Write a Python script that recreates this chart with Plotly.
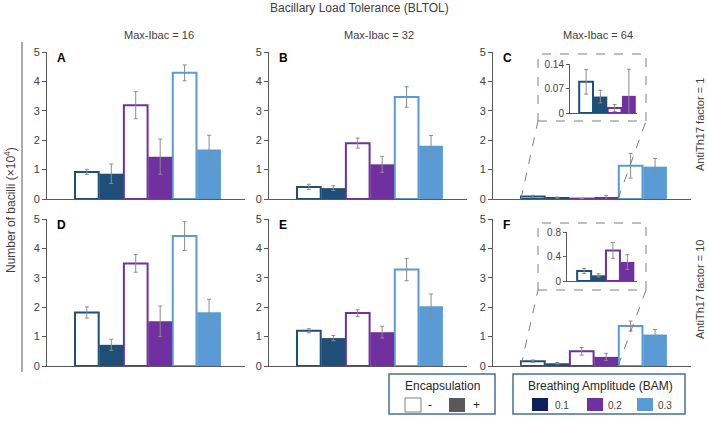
import plotly.graph_objects as go

W, H = 708, 421

# ---------------- data ----------------
bar_labels = ["BAM 0.1 −", "BAM 0.1 +", "BAM 0.2 −", "BAM 0.2 +", "BAM 0.3 −", "BAM 0.3 +"]
panel_letters = ["A", "B", "C", "D", "E", "F"]
col_titles = ["Max-Ibac = 16", "Max-Ibac = 32", "Max-Ibac = 64"]
row_titles = ["AntiTh17 factor = 1", "AntiTh17 factor = 10"]

means_A = [0.92, 0.86, 3.19, 1.44, 4.29, 1.68]
errs_A = [0.09, 0.33, 0.46, 0.60, 0.27, 0.49]
means_B = [0.41, 0.37, 1.90, 1.18, 3.47, 1.81]
errs_B = [0.09, 0.08, 0.17, 0.27, 0.35, 0.35]
means_C = [0.089, 0.047, 0.014, 0.049, 1.13, 1.10]
errs_C = [0.035, 0.018, 0.010, 0.076, 0.42, 0.28]
means_D = [1.82, 0.72, 3.49, 1.52, 4.42, 1.83]
errs_D = [0.19, 0.19, 0.30, 0.52, 0.49, 0.44]
means_E = [1.20, 0.95, 1.80, 1.15, 3.28, 2.03]
errs_E = [0.07, 0.09, 0.11, 0.20, 0.38, 0.42]
means_F = [0.164, 0.093, 0.50, 0.31, 1.36, 1.07]
errs_F = [0.04, 0.025, 0.13, 0.12, 0.17, 0.17]

y_ticks = [0, 1, 2, 3, 4, 5]
inset_C_ticks = [0, 0.07, 0.14]
inset_F_ticks = [0, 0.4, 0.8]

bam_values = ["0.1", "0.2", "0.3"]
bam_colors = ["#1F4E79", "#7030A0", "#5B9BD5"]
bam_legend_colors = ["#0E1F5C", "#7030A0", "#5B9BD5"]

all_means = [means_A, means_B, means_C, means_D, means_E, means_F]
all_errs = [errs_A, errs_B, errs_C, errs_D, errs_E, errs_F]

# ---------------- layout helpers ----------------
def PX(px):
    return px / W

def PY(py):
    return 1 - py / H

col_px = [(47, 245), (269, 467), (493, 691)]
row_px = [(52, 199), (219, 366)]
XR = [-1.63, 6.47]
BAR_W = 0.97

fig = go.Figure()
layout = dict(
    width=W, height=H, margin=dict(l=0, r=0, t=0, b=0, pad=0, autoexpand=False),
    plot_bgcolor="white", paper_bgcolor="white", showlegend=False,
    font=dict(family="Liberation Sans, Arial, sans-serif", color="#404040", size=11),
    barmode="overlay",
)

AX_COL = "#595959"
ERR = dict(type="data", thickness=1, width=2, color="#8c8c8c")

shapes = []
annotations = []

def txt(text, xpx, ypx, size=11, color="#404040", angle=0, xanchor="center"):
    annotations.append(dict(
        text=text, x=PX(xpx), y=PY(ypx), xref="paper", yref="paper",
        xanchor=xanchor, yanchor="middle", showarrow=False, textangle=angle,
        font=dict(size=size, color=color),
    ))

def add_bars(xa, ya, means, errs, idx):
    neg = [i for i in idx if i % 2 == 0]
    pos = [i for i in idx if i % 2 == 1]
    fig.add_trace(go.Bar(
        x=[bar_labels[i] for i in neg], y=[means[i] for i in neg],
        error_y=dict(array=[errs[i] for i in neg], **ERR),
        width=BAR_W,
        marker=dict(color="white", line=dict(color=[bam_colors[i // 2] for i in neg], width=2)),
        xaxis=xa, yaxis=ya,
    ))
    fig.add_trace(go.Bar(
        x=[bar_labels[i] for i in pos], y=[means[i] for i in pos],
        error_y=dict(array=[errs[i] for i in pos], **ERR),
        width=BAR_W,
        marker=dict(color=[bam_colors[i // 2] for i in pos], line=dict(width=0)),
        xaxis=xa, yaxis=ya,
    ))

for p in range(6):
    r, c = divmod(p, 3)
    n = p + 1
    xa = "x" if n == 1 else f"x{n}"
    ya = "y" if n == 1 else f"y{n}"
    add_bars(xa, ya, all_means[p], all_errs[p], range(6))
    xdom = [PX(col_px[c][0]), PX(col_px[c][1])]
    ydom = [PY(row_px[r][1]), PY(row_px[r][0])]
    layout[f"xaxis{n if n > 1 else ''}"] = dict(
        domain=xdom, anchor=ya, range=XR, type="category",
        categoryorder="array", categoryarray=bar_labels, automargin=False,
        showticklabels=False, ticks="", showline=True, linecolor=AX_COL, linewidth=1,
        showgrid=False, zeroline=False, fixedrange=True,
    )
    layout[f"yaxis{n if n > 1 else ''}"] = dict(
        domain=ydom, anchor=xa, range=[0, 5], tickvals=y_ticks, automargin=False,
        ticks="outside", ticklen=4, tickcolor=AX_COL, showline=True, linecolor=AX_COL,
        linewidth=1, showgrid=False, zeroline=False, tickfont=dict(size=11, color="#404040"),
    )
    txt(f"<b>{panel_letters[p]}</b>", col_px[c][0] + 8, row_px[r][0] + 6, size=12,
        color="#000000", xanchor="left")

# ---------------- insets ----------------
inset_specs = [
    (2, (570, 637), (64, 113), (538, 646), (54, 121), [0, 0.14], inset_C_ticks, [-1.13, 3.57], ["0", "0.07", "0.14"]),
    (5, (567, 637), (232, 281), (538, 646), (223, 290), [0, 0.8], inset_F_ticks, [-1.19, 3.67], ["0", "0.4", "0.8"]),
]
for k, (p, ixp, iyp, bxp, byp, yr, yt, xr, ytl) in enumerate(inset_specs):
    n = 7 + k
    xa, ya = f"x{n}", f"y{n}"
    add_bars(xa, ya, all_means[p], all_errs[p], range(4))
    layout[f"xaxis{n}"] = dict(
        domain=[PX(ixp[0]), PX(ixp[1])], anchor=ya, range=xr, type="category",
        categoryorder="array", categoryarray=bar_labels, automargin=False,
        showticklabels=False, ticks="", showline=True, linecolor=AX_COL, linewidth=1,
        showgrid=False, zeroline=False,
    )
    layout[f"yaxis{n}"] = dict(
        domain=[PY(iyp[1]), PY(iyp[0])], anchor=xa, range=yr, tickvals=yt, ticktext=ytl,
        automargin=False,
        ticks="outside", ticklen=3, tickcolor=AX_COL, showline=True, linecolor=AX_COL,
        linewidth=1, showgrid=False, zeroline=False, tickfont=dict(size=10, color="#404040"),
    )
    shapes.append(dict(type="rect", xref="paper", yref="paper",
                       x0=PX(bxp[0]), x1=PX(bxp[1]), y0=PY(byp[1]), y1=PY(byp[0]),
                       line=dict(color="#7f7f7f", width=1, dash="dash"), fillcolor="rgba(0,0,0,0)"))
    r, c = divmod(p, 3)
    d0, d1 = PX(col_px[c][0]), PX(col_px[c][1])

    def xpaper(v, d0=d0, d1=d1):
        return d0 + (v - XR[0]) / (XR[1] - XR[0]) * (d1 - d0)
    ybase = PY(row_px[r][1])
    shapes.append(dict(type="line", xref="paper", yref="paper",
                       x0=xpaper(-BAR_W / 2), y0=ybase, x1=PX(bxp[0]), y1=PY(byp[1]),
                       line=dict(color="#7f7f7f", width=1, dash="dash")))
    shapes.append(dict(type="line", xref="paper", yref="paper",
                       x0=xpaper(3 + BAR_W / 2), y0=ybase, x1=PX(bxp[1]), y1=PY(byp[1]),
                       line=dict(color="#7f7f7f", width=1, dash="dash")))

# ---------------- titles / labels ----------------
txt("Bacillary Load Tolerance (BLTOL)", 359, 8, size=12)
for c, xpx in enumerate([159, 379, 598]):
    txt(col_titles[c], xpx, 35, size=11)
for r, ypx in enumerate([125, 290]):
    txt(row_titles[r], 700, ypx, size=11, angle=-90)
txt("Number of bacilli (×10<sup>4</sup>)", 10, 210, size=12, angle=-90)
shapes.append(dict(type="line", xref="paper", yref="paper", x0=PX(22), x1=PX(22), y0=PY(42), y1=PY(372),
                   line=dict(color="#595959", width=1)))

# ---------------- legends ----------------
LEG_BORDER = "#41719C"
shapes.append(dict(type="rect", xref="paper", yref="paper", x0=PX(389), x1=PX(495), y0=PY(414), y1=PY(374),
                   line=dict(color=LEG_BORDER, width=1.5), fillcolor="white"))
txt("Encapsulation", 442, 386, size=12, color="#262626")
shapes.append(dict(type="rect", xref="paper", yref="paper", x0=PX(405), x1=PX(421), y0=PY(412), y1=PY(398),
                   line=dict(color="#7f7f7f", width=1), fillcolor="white"))
txt("-", 430, 405, size=12, color="#262626")
shapes.append(dict(type="rect", xref="paper", yref="paper", x0=PX(449), x1=PX(465), y0=PY(412), y1=PY(398),
                   line=dict(width=0), fillcolor="#595959"))
txt("+", 476, 405, size=12, color="#262626")

shapes.append(dict(type="rect", xref="paper", yref="paper", x0=PX(513), x1=PX(685), y0=PY(414), y1=PY(374),
                   line=dict(color=LEG_BORDER, width=1.5), fillcolor="white"))
txt("Breathing Amplitude (BAM)", 600, 386, size=12, color="#262626")
for i, (sx, tx) in enumerate([(532, 562), (587, 615), (637, 665)]):
    shapes.append(dict(type="rect", xref="paper", yref="paper", x0=PX(sx), x1=PX(sx + 16),
                       y0=PY(411), y1=PY(398), line=dict(width=0), fillcolor=bam_legend_colors[i]))
    txt(bam_values[i], tx, 405, size=10)

layout["shapes"] = shapes
layout["annotations"] = annotations
fig.update_layout(**layout)

post = (
    "document.documentElement.style.margin='0';"
    "document.documentElement.style.padding='0';"
    "document.documentElement.style.overflow='hidden';"
    "document.body.style.margin='0';"
    "document.body.style.padding='0';"
    "document.body.style.overflow='hidden';"
)
fig.write_html("out.html", config={"displayModeBar": False, "responsive": False}, post_script=post)
